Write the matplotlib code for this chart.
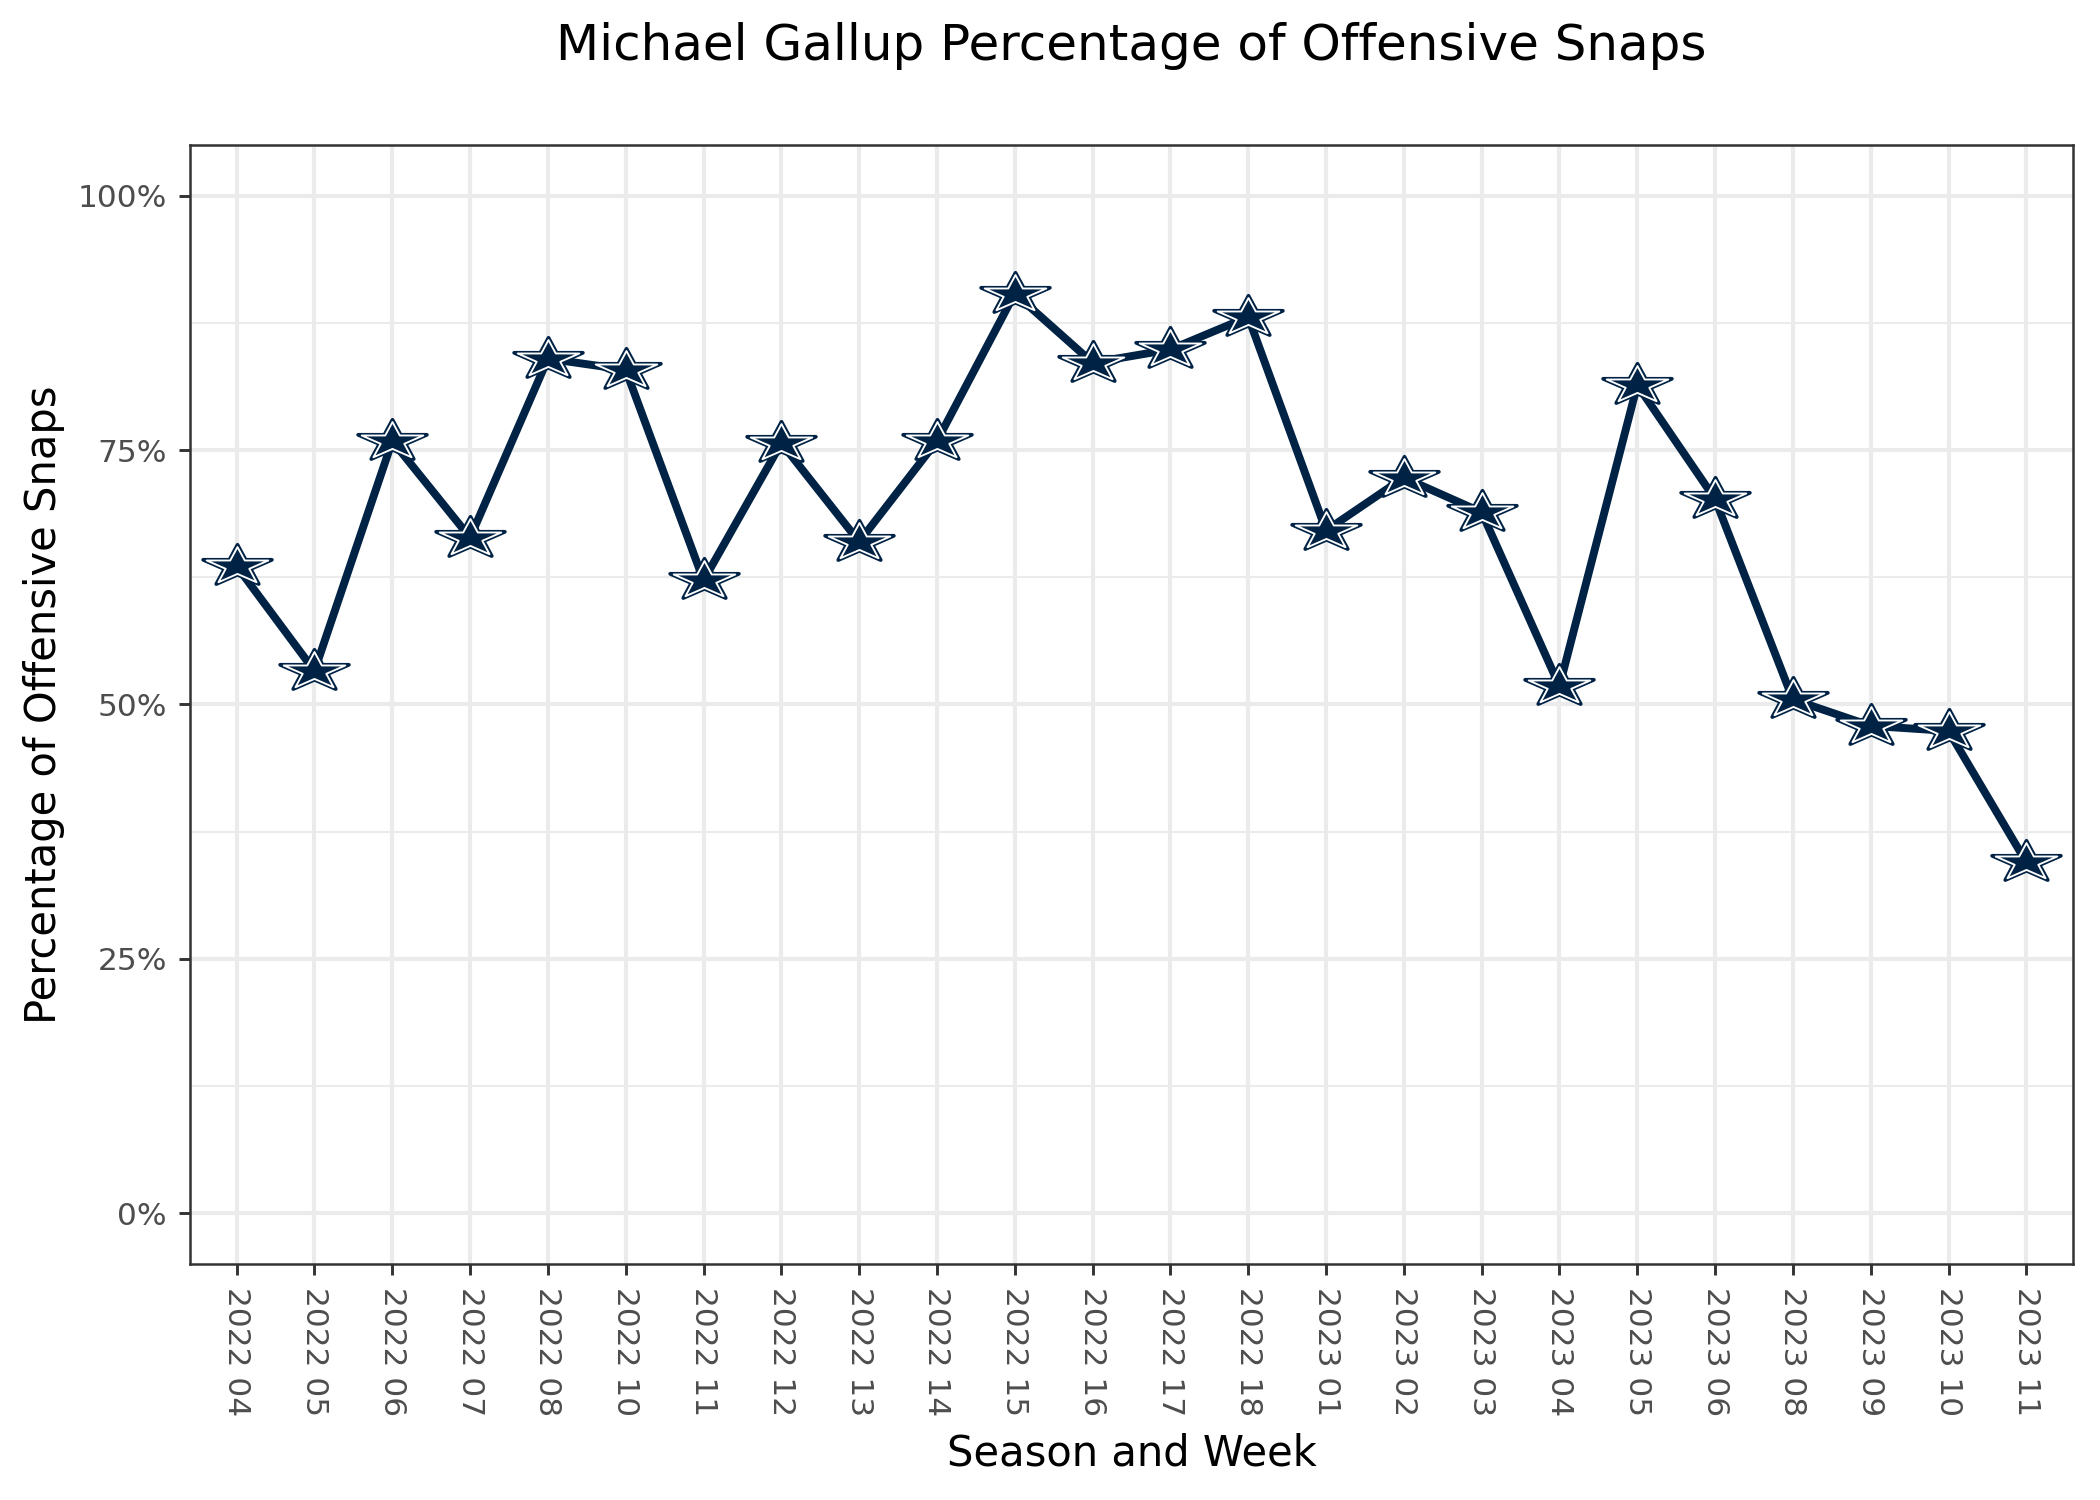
import numpy as np
import matplotlib.pyplot as plt
from matplotlib.path import Path
from matplotlib.ticker import FixedLocator

weeks = ['2022 04', '2022 05', '2022 06', '2022 07', '2022 08', '2022 10',
         '2022 11', '2022 12', '2022 13', '2022 14', '2022 15', '2022 16',
         '2022 17', '2022 18', '2023 01', '2023 02', '2023 03', '2023 04',
         '2023 05', '2023 06', '2023 08', '2023 09', '2023 10', '2023 11']
snap_pct = [63.6, 53.3, 75.9, 66.4, 84.0, 82.9, 62.2, 75.7, 66.0, 75.9,
            90.4, 83.6, 84.9, 88.1, 67.1, 72.3, 68.9, 51.8, 81.4, 70.2,
            50.5, 47.9, 47.4, 34.5]
y_ticks = [0, 25, 50, 75, 100]
y_labels = ['0%', '25%', '50%', '75%', '100%']

navy = '#002244'
grid_col = '#EBEBEB'
text_col = '#4D4D4D'

# flattened five-point star (wider than tall, like the reference markers)
ang = np.pi / 2 + np.arange(10) * np.pi / 5
rad = np.where(np.arange(10) % 2 == 0, 1.0, 0.382)
verts = np.column_stack([rad * np.cos(ang), rad * np.sin(ang) * 0.6])
verts = np.vstack([verts, verts[:1]])
star = Path(verts, closed=True)

fig = plt.figure(figsize=(7, 5), dpi=300)
ax = fig.add_axes([190/2100, 1-1264/1500, (2073-190)/2100, (1264-145)/1500])

x = np.arange(len(weeks))
ax.plot(x, snap_pct, color=navy, lw=1.9, zorder=3)
ax.plot(x, snap_pct, ls='none', marker=star, ms=16.5, mfc=navy, mec=navy, mew=0.9, zorder=4)
ax.plot(x, snap_pct, ls='none', marker=star, ms=14.8, mfc=navy, mec='white', mew=0.45, zorder=5)

ax.set_xlim(-0.6, len(weeks) - 0.4)
ax.set_ylim(-5, 105)
ax.set_xticks(x)
ax.set_xticklabels(weeks, rotation=270, fontsize=7.5, color=text_col)
ax.set_yticks(y_ticks)
ax.set_yticklabels(y_labels, fontsize=7.5, color=text_col)
ax.yaxis.set_minor_locator(FixedLocator([12.5, 37.5, 62.5, 87.5]))
ax.tick_params(axis='y', which='minor', length=0)
ax.tick_params(which='major', length=2.7, width=0.7, color='#333333', pad=2.8)

ax.grid(True, which='major', color=grid_col, lw=1.0, zorder=0)
ax.grid(True, which='minor', axis='y', color=grid_col, lw=0.5, zorder=0)
ax.set_axisbelow(True)
for s in ax.spines.values():
    s.set_color('#333333')
    s.set_linewidth(0.6)

ax_mid_x = 0.5 * (190 + 2073) / 2100
ax_mid_y = 1 - 0.5 * (145 + 1264) / 1500
fig.text(ax_mid_x, 0.0227, 'Season and Week', fontsize=10, ha='center', va='baseline')
fig.text(33/1568, ax_mid_y, 'Percentage of Offensive Snaps', fontsize=10,
         rotation=90, ha='center', va='center')
fig.text(ax_mid_x, 0.96, 'Michael Gallup Percentage of Offensive Snaps',
         fontsize=12, ha='center', va='baseline')

fig.savefig('out.png', dpi=300)
